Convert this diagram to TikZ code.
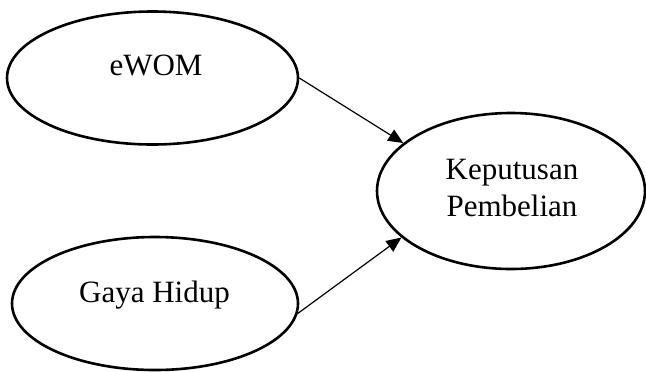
\documentclass[tikz,border=0pt]{standalone}
\usepackage{fontspec}
\setmainfont{Liberation Serif}
\usetikzlibrary{shapes.geometric,arrows.meta}

\begin{document}
\begin{tikzpicture}[x=0.5pt, y=-0.5pt,
    latent/.style={ellipse, draw=black, line width=1.3pt, inner sep=0pt},
    lbl/.style={font=\fontsize{15.5}{18.5}\selectfont, align=center, inner sep=0pt},
    path/.style={-{Triangle[length=7.5pt,width=6.5pt]}, line width=0.6pt}]
    \useasboundingbox (0, 0) rectangle (646, 371);

    \node[latent, minimum width=145.5pt, minimum height=66.5pt] (ewom) at (152.5, 78) {};
    \node[latent, minimum width=143pt, minimum height=66.5pt]   (gaya) at (155, 303.5) {};
    \node[latent, minimum width=134pt, minimum height=78pt]     (kp) at (511, 191) {};

    \node[lbl, anchor=base] (ewomtxt) at (156, 75) {eWOM};
    \node[lbl, anchor=base] (gayatxt) at (154.5, 302) {Gaya Hidup};
    \node[lbl] (kptxt) at (512, 188) {Keputusan\\Pembelian};

    \draw[path] (ewom.east) -- (kp.156.6);
    \draw[path] (gaya.-4) -- (kp.203);
\end{tikzpicture}
\end{document}
